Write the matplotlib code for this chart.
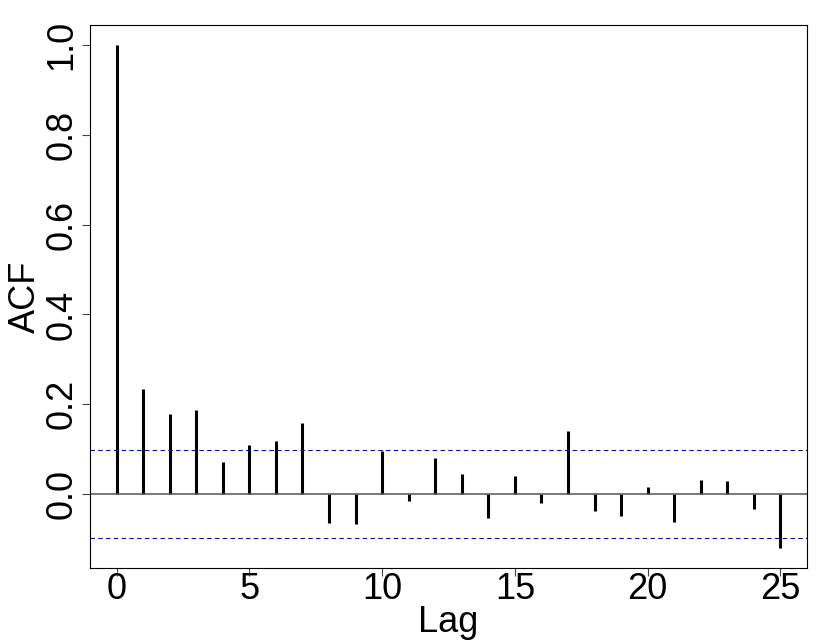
import numpy as np
import matplotlib.pyplot as plt

plt.rcParams['font.family'] = ['Liberation Sans', 'DejaVu Sans']

# ACF values
lags = np.arange(0, 26)
acf = [1.0, 0.233, 0.179, 0.186, 0.071, 0.109, 0.118, 0.159, -0.065, -0.068,
       0.095, -0.016, 0.081, 0.044, -0.053, 0.039, -0.021, 0.141, -0.038, -0.050,
       0.015, -0.062, 0.032, 0.028, -0.033, -0.120]
conf = 0.098

x_ticks = [0, 5, 10, 15, 20, 25]
y_ticks = [0.0, 0.2, 0.4, 0.6, 0.8, 1.0]

fig = plt.figure(figsize=(8.3, 6.42), dpi=100)
ax = fig.add_axes([90 / 830, 74 / 642, 717 / 830, 543 / 642])

ax.vlines(lags, 0, acf, color='black', linewidth=2.2)
ax.axhline(0, color='#555555', linewidth=1.1)
ax.axhline(conf, color='blue', linewidth=0.8, linestyle=(0, (4, 3)))
ax.axhline(-conf, color='blue', linewidth=0.8, linestyle=(0, (4, 3)))

ax.set_xlim(-1, 26)
ax.set_ylim(-0.165, 1.045)
ax.set_xticks(x_ticks)
ax.set_yticks(y_ticks)
ax.set_yticklabels(['%.1f' % v for v in y_ticks], rotation=90, va='center')

ax.tick_params(axis='x', length=5.8, width=0.8, color='#444444', pad=-2.9, labelsize=26)
ax.tick_params(axis='y', length=5.8, width=0.8, color='#444444', pad=2, labelsize=26)
for s in ax.spines.values():
    s.set_linewidth(0.8)

ax.set_xlabel('Lag', fontsize=26)
ax.set_ylabel('ACF', fontsize=26)
ax.xaxis.set_label_coords(0.5, -0.068)
ax.yaxis.set_label_coords(-0.066, 0.5)

fig.savefig('out.png', dpi=100)
